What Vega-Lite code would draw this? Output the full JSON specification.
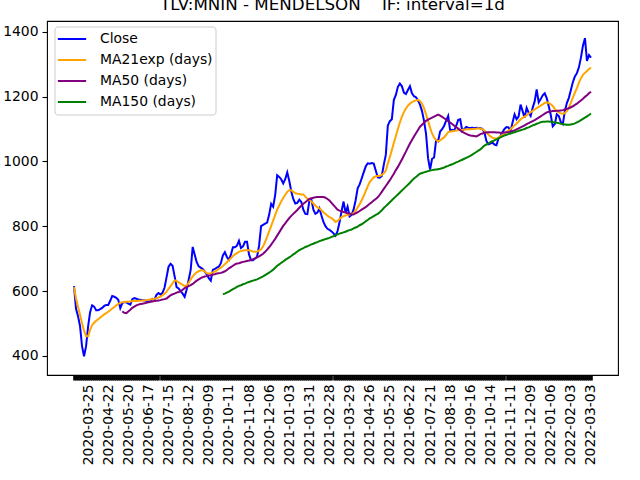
{
  "$schema": "https://vega.github.io/schema/vega-lite/v6.json",
  "width": 571,
  "height": 354,
  "autosize": {"type": "none"},
  "padding": {"left": 47, "top": 21, "right": 22, "bottom": 105},
  "title": {
    "text": "TLV:MNIN - MENDELSON\u00a0\u00a0\u00a0\u00a0IF: interval=1d",
    "font": "DejaVu Sans",
    "fontSize": 16.7,
    "fontWeight": "normal",
    "color": "black",
    "anchor": "middle",
    "baseline": "alphabetic",
    "offset": 5,
    "dy": 11
  },
  "data": {
    "values": [
      {"d": "2020-03-05", "c": 615, "e": 612},
      {"d": "2020-03-09", "c": 545, "e": 577},
      {"d": "2020-03-11", "c": 522, "e": 551},
      {"d": "2020-03-15", "c": 492, "e": 527},
      {"d": "2020-03-17", "c": 429, "e": 500},
      {"d": "2020-03-19", "c": 399, "e": 478},
      {"d": "2020-03-23", "c": 430, "e": 461},
      {"d": "2020-03-25", "c": 490, "e": 460},
      {"d": "2020-03-29", "c": 535, "e": 480},
      {"d": "2020-03-31", "c": 556, "e": 495},
      {"d": "2020-04-02", "c": 552, "e": 502},
      {"d": "2020-04-06", "c": 541, "e": 508},
      {"d": "2020-04-08", "c": 541, "e": 513},
      {"d": "2020-04-12", "c": 544, "e": 518},
      {"d": "2020-04-14", "c": 548, "e": 523},
      {"d": "2020-04-16", "c": 554, "e": 528},
      {"d": "2020-04-20", "c": 557, "e": 532},
      {"d": "2020-04-22", "c": 557, "e": 536},
      {"d": "2020-04-26", "c": 570, "e": 541},
      {"d": "2020-04-28", "c": 585, "e": 546},
      {"d": "2020-04-30", "c": 583, "e": 551},
      {"d": "2020-05-04", "c": 579, "e": 556},
      {"d": "2020-05-06", "c": 573, "e": 560},
      {"d": "2020-05-10", "c": 547, "e": 564},
      {"d": "2020-05-12", "c": 563, "e": 565, "m": 537},
      {"d": "2020-05-14", "c": 566, "e": 566, "m": 533},
      {"d": "2020-05-18", "c": 565, "e": 567, "m": 532},
      {"d": "2020-05-20", "c": 561, "e": 567, "m": 537},
      {"d": "2020-05-24", "c": 558, "e": 568, "m": 542},
      {"d": "2020-05-26", "c": 575, "e": 569, "m": 548},
      {"d": "2020-05-28", "c": 578, "e": 569, "m": 552},
      {"d": "2020-06-01", "c": 576, "e": 569, "m": 556},
      {"d": "2020-06-03", "c": 574, "e": 570, "m": 558},
      {"d": "2020-06-07", "c": 573, "e": 570, "m": 560},
      {"d": "2020-06-09", "c": 572, "e": 571, "m": 561},
      {"d": "2020-06-11", "c": 571, "e": 571, "m": 562},
      {"d": "2020-06-15", "c": 570, "e": 572, "m": 564},
      {"d": "2020-06-17", "c": 568, "e": 573, "m": 565},
      {"d": "2020-06-21", "c": 568, "e": 574, "m": 567},
      {"d": "2020-06-23", "c": 576, "e": 575, "m": 568},
      {"d": "2020-06-25", "c": 574, "e": 576, "m": 569},
      {"d": "2020-06-29", "c": 588, "e": 578, "m": 570},
      {"d": "2020-07-01", "c": 594, "e": 580, "m": 571},
      {"d": "2020-07-05", "c": 589, "e": 583, "m": 572},
      {"d": "2020-07-07", "c": 595, "e": 587, "m": 574},
      {"d": "2020-07-09", "c": 610, "e": 592, "m": 575},
      {"d": "2020-07-13", "c": 642, "e": 598, "m": 577},
      {"d": "2020-07-15", "c": 675, "e": 607, "m": 582},
      {"d": "2020-07-19", "c": 684, "e": 615, "m": 587},
      {"d": "2020-07-21", "c": 678, "e": 624, "m": 590},
      {"d": "2020-07-23", "c": 646, "e": 633, "m": 592},
      {"d": "2020-07-27", "c": 612, "e": 631, "m": 595},
      {"d": "2020-07-29", "c": 608, "e": 627, "m": 597},
      {"d": "2020-08-02", "c": 600, "e": 623, "m": 600},
      {"d": "2020-08-04", "c": 592, "e": 619, "m": 604},
      {"d": "2020-08-06", "c": 582, "e": 615, "m": 609},
      {"d": "2020-08-10", "c": 605, "e": 617, "m": 612},
      {"d": "2020-08-12", "c": 635, "e": 625, "m": 615},
      {"d": "2020-08-16", "c": 665, "e": 636, "m": 618},
      {"d": "2020-08-18", "c": 736, "e": 645, "m": 622},
      {"d": "2020-08-20", "c": 712, "e": 652, "m": 627},
      {"d": "2020-08-24", "c": 689, "e": 658, "m": 632},
      {"d": "2020-08-26", "c": 676, "e": 661, "m": 636},
      {"d": "2020-08-30", "c": 672, "e": 664, "m": 640},
      {"d": "2020-09-01", "c": 668, "e": 664, "m": 643},
      {"d": "2020-09-03", "c": 660, "e": 660, "m": 645},
      {"d": "2020-09-07", "c": 651, "e": 655, "m": 646},
      {"d": "2020-09-09", "c": 640, "e": 654, "m": 648},
      {"d": "2020-09-13", "c": 632, "e": 655, "m": 649},
      {"d": "2020-09-15", "c": 665, "e": 657, "m": 651},
      {"d": "2020-09-17", "c": 668, "e": 660, "m": 652},
      {"d": "2020-09-21", "c": 672, "e": 664, "m": 654},
      {"d": "2020-09-23", "c": 675, "e": 668, "m": 655},
      {"d": "2020-09-27", "c": 686, "e": 672, "m": 656},
      {"d": "2020-09-29", "c": 710, "e": 677, "m": 658, "l": 591},
      {"d": "2020-10-01", "c": 720, "e": 683, "m": 661, "l": 592},
      {"d": "2020-10-05", "c": 705, "e": 689, "m": 665, "l": 595},
      {"d": "2020-10-11", "c": 696, "e": 695, "m": 670, "l": 598},
      {"d": "2020-10-13", "c": 712, "e": 701, "m": 674, "l": 602},
      {"d": "2020-10-15", "c": 735, "e": 708, "m": 678, "l": 606},
      {"d": "2020-10-19", "c": 735, "e": 713, "m": 682, "l": 609},
      {"d": "2020-10-21", "c": 740, "e": 717, "m": 685, "l": 613},
      {"d": "2020-10-25", "c": 755, "e": 721, "m": 686, "l": 616},
      {"d": "2020-10-27", "c": 733, "e": 723, "m": 688, "l": 618},
      {"d": "2020-10-29", "c": 738, "e": 725, "m": 690, "l": 621},
      {"d": "2020-11-02", "c": 752, "e": 726, "m": 691, "l": 623},
      {"d": "2020-11-04", "c": 752, "e": 726, "m": 693, "l": 626},
      {"d": "2020-11-08", "c": 713, "e": 726, "m": 694, "l": 628},
      {"d": "2020-11-10", "c": 695, "e": 724, "m": 696, "l": 630},
      {"d": "2020-11-12", "c": 695, "e": 722, "m": 698, "l": 632},
      {"d": "2020-11-16", "c": 700, "e": 721, "m": 701, "l": 634},
      {"d": "2020-11-18", "c": 706, "e": 722, "m": 704, "l": 636},
      {"d": "2020-11-22", "c": 740, "e": 725, "m": 707, "l": 639},
      {"d": "2020-11-24", "c": 800, "e": 729, "m": 711, "l": 642},
      {"d": "2020-11-26", "c": 804, "e": 738, "m": 715, "l": 645},
      {"d": "2020-11-30", "c": 808, "e": 752, "m": 721, "l": 649},
      {"d": "2020-12-02", "c": 811, "e": 767, "m": 728, "l": 653},
      {"d": "2020-12-06", "c": 835, "e": 784, "m": 735, "l": 657},
      {"d": "2020-12-08", "c": 869, "e": 800, "m": 743, "l": 661},
      {"d": "2020-12-10", "c": 860, "e": 817, "m": 752, "l": 666},
      {"d": "2020-12-14", "c": 896, "e": 834, "m": 761, "l": 672},
      {"d": "2020-12-16", "c": 957, "e": 851, "m": 771, "l": 678},
      {"d": "2020-12-20", "c": 952, "e": 864, "m": 781, "l": 682},
      {"d": "2020-12-22", "c": 945, "e": 876, "m": 791, "l": 687},
      {"d": "2020-12-24", "c": 932, "e": 887, "m": 801, "l": 691},
      {"d": "2020-12-28", "c": 945, "e": 897, "m": 809, "l": 696},
      {"d": "2020-12-30", "c": 966, "e": 906, "m": 817, "l": 700},
      {"d": "2021-01-03", "c": 940, "e": 911, "m": 825, "l": 704},
      {"d": "2021-01-05", "c": 908, "e": 911, "m": 832, "l": 708},
      {"d": "2021-01-07", "c": 884, "e": 906, "m": 838, "l": 713},
      {"d": "2021-01-11", "c": 870, "e": 902, "m": 844, "l": 717},
      {"d": "2021-01-13", "c": 872, "e": 900, "m": 850, "l": 722},
      {"d": "2021-01-17", "c": 882, "e": 899, "m": 857, "l": 726},
      {"d": "2021-01-19", "c": 875, "e": 898, "m": 863, "l": 729},
      {"d": "2021-01-21", "c": 851, "e": 898, "m": 869, "l": 732},
      {"d": "2021-01-25", "c": 838, "e": 891, "m": 874, "l": 736},
      {"d": "2021-01-27", "c": 837, "e": 884, "m": 879, "l": 738},
      {"d": "2021-01-31", "c": 878, "e": 881, "m": 884, "l": 741},
      {"d": "2021-02-02", "c": 882, "e": 876, "m": 886, "l": 744},
      {"d": "2021-02-04", "c": 851, "e": 870, "m": 888, "l": 746},
      {"d": "2021-02-08", "c": 838, "e": 863, "m": 889, "l": 749},
      {"d": "2021-02-10", "c": 842, "e": 858, "m": 890, "l": 751},
      {"d": "2021-02-14", "c": 855, "e": 855, "m": 890, "l": 754},
      {"d": "2021-02-16", "c": 833, "e": 849, "m": 890, "l": 756},
      {"d": "2021-02-18", "c": 813, "e": 843, "m": 890, "l": 758},
      {"d": "2021-02-22", "c": 800, "e": 838, "m": 888, "l": 760},
      {"d": "2021-02-24", "c": 792, "e": 832, "m": 884, "l": 762},
      {"d": "2021-02-28", "c": 789, "e": 828, "m": 879, "l": 764},
      {"d": "2021-03-02", "c": 784, "e": 825, "m": 872, "l": 767},
      {"d": "2021-03-04", "c": 778, "e": 820, "m": 865, "l": 769},
      {"d": "2021-03-08", "c": 771, "e": 813, "m": 858, "l": 772},
      {"d": "2021-03-10", "c": 785, "e": 816, "m": 851, "l": 775},
      {"d": "2021-03-14", "c": 812, "e": 822, "m": 848, "l": 777},
      {"d": "2021-03-16", "c": 846, "e": 828, "m": 846, "l": 779},
      {"d": "2021-03-18", "c": 876, "e": 831, "m": 844, "l": 781},
      {"d": "2021-03-22", "c": 841, "e": 833, "m": 842, "l": 783},
      {"d": "2021-03-24", "c": 860, "e": 835, "m": 840, "l": 786},
      {"d": "2021-03-29", "c": 830, "e": 836, "m": 839, "l": 788},
      {"d": "2021-03-31", "c": 835, "e": 838, "m": 837, "l": 790},
      {"d": "2021-04-04", "c": 852, "e": 840, "m": 836, "l": 793},
      {"d": "2021-04-06", "c": 880, "e": 849, "m": 840, "l": 796},
      {"d": "2021-04-08", "c": 917, "e": 858, "m": 843, "l": 799},
      {"d": "2021-04-12", "c": 929, "e": 868, "m": 847, "l": 803},
      {"d": "2021-04-14", "c": 947, "e": 880, "m": 851, "l": 806},
      {"d": "2021-04-18", "c": 966, "e": 893, "m": 855, "l": 810},
      {"d": "2021-04-20", "c": 984, "e": 908, "m": 859, "l": 815},
      {"d": "2021-04-22", "c": 994, "e": 923, "m": 864, "l": 819},
      {"d": "2021-04-26", "c": 993, "e": 936, "m": 869, "l": 824},
      {"d": "2021-04-28", "c": 995, "e": 944, "m": 874, "l": 827},
      {"d": "2021-05-02", "c": 993, "e": 951, "m": 879, "l": 831},
      {"d": "2021-05-04", "c": 972, "e": 954, "m": 884, "l": 835},
      {"d": "2021-05-06", "c": 951, "e": 955, "m": 889, "l": 838},
      {"d": "2021-05-10", "c": 950, "e": 955, "m": 897, "l": 843},
      {"d": "2021-05-12", "c": 955, "e": 958, "m": 906, "l": 849},
      {"d": "2021-05-16", "c": 990, "e": 963, "m": 915, "l": 856},
      {"d": "2021-05-18", "c": 1020, "e": 972, "m": 924, "l": 862},
      {"d": "2021-05-20", "c": 1110, "e": 993, "m": 933, "l": 868},
      {"d": "2021-05-25", "c": 1124, "e": 1013, "m": 942, "l": 874},
      {"d": "2021-05-27", "c": 1130, "e": 1035, "m": 952, "l": 880},
      {"d": "2021-05-31", "c": 1190, "e": 1057, "m": 962, "l": 886},
      {"d": "2021-06-02", "c": 1205, "e": 1078, "m": 973, "l": 892},
      {"d": "2021-06-06", "c": 1230, "e": 1100, "m": 983, "l": 898},
      {"d": "2021-06-08", "c": 1240, "e": 1120, "m": 994, "l": 904},
      {"d": "2021-06-10", "c": 1232, "e": 1138, "m": 1006, "l": 910},
      {"d": "2021-06-14", "c": 1212, "e": 1152, "m": 1018, "l": 916},
      {"d": "2021-06-16", "c": 1208, "e": 1163, "m": 1030, "l": 922},
      {"d": "2021-06-20", "c": 1220, "e": 1172, "m": 1043, "l": 928},
      {"d": "2021-06-22", "c": 1232, "e": 1178, "m": 1055, "l": 934},
      {"d": "2021-06-24", "c": 1210, "e": 1183, "m": 1066, "l": 941},
      {"d": "2021-06-28", "c": 1201, "e": 1186, "m": 1077, "l": 947},
      {"d": "2021-06-30", "c": 1198, "e": 1188, "m": 1087, "l": 952},
      {"d": "2021-07-04", "c": 1188, "e": 1190, "m": 1097, "l": 957},
      {"d": "2021-07-06", "c": 1175, "e": 1186, "m": 1107, "l": 962},
      {"d": "2021-07-08", "c": 1155, "e": 1178, "m": 1113, "l": 964},
      {"d": "2021-07-12", "c": 1125, "e": 1164, "m": 1119, "l": 966},
      {"d": "2021-07-14", "c": 1085, "e": 1145, "m": 1125, "l": 968},
      {"d": "2021-07-18", "c": 1010, "e": 1125, "m": 1129, "l": 970},
      {"d": "2021-07-21", "c": 975, "e": 1104, "m": 1132, "l": 972},
      {"d": "2021-07-25", "c": 1008, "e": 1086, "m": 1135, "l": 973},
      {"d": "2021-07-27", "c": 1012, "e": 1073, "m": 1138, "l": 974},
      {"d": "2021-07-29", "c": 1065, "e": 1066, "m": 1141, "l": 975},
      {"d": "2021-08-02", "c": 1062, "e": 1062, "m": 1144, "l": 976},
      {"d": "2021-08-04", "c": 1092, "e": 1065, "m": 1141, "l": 977},
      {"d": "2021-08-08", "c": 1099, "e": 1070, "m": 1137, "l": 979},
      {"d": "2021-08-10", "c": 1110, "e": 1074, "m": 1133, "l": 981},
      {"d": "2021-08-12", "c": 1126, "e": 1082, "m": 1129, "l": 984},
      {"d": "2021-08-16", "c": 1140, "e": 1090, "m": 1124, "l": 986},
      {"d": "2021-08-18", "c": 1095, "e": 1092, "m": 1120, "l": 989},
      {"d": "2021-08-22", "c": 1097, "e": 1093, "m": 1115, "l": 991},
      {"d": "2021-08-24", "c": 1095, "e": 1094, "m": 1110, "l": 994},
      {"d": "2021-08-26", "c": 1110, "e": 1095, "m": 1106, "l": 997},
      {"d": "2021-08-30", "c": 1128, "e": 1096, "m": 1101, "l": 999},
      {"d": "2021-09-01", "c": 1130, "e": 1097, "m": 1096, "l": 1002},
      {"d": "2021-09-05", "c": 1094, "e": 1097, "m": 1091, "l": 1005},
      {"d": "2021-09-07", "c": 1100, "e": 1098, "m": 1088, "l": 1008},
      {"d": "2021-09-09", "c": 1106, "e": 1098, "m": 1085, "l": 1011},
      {"d": "2021-09-13", "c": 1104, "e": 1099, "m": 1082, "l": 1014},
      {"d": "2021-09-16", "c": 1103, "e": 1099, "m": 1080, "l": 1017},
      {"d": "2021-09-20", "c": 1104, "e": 1100, "m": 1079, "l": 1021},
      {"d": "2021-09-22", "c": 1102, "e": 1100, "m": 1078, "l": 1025},
      {"d": "2021-09-26", "c": 1104, "e": 1101, "m": 1077, "l": 1029},
      {"d": "2021-09-28", "c": 1103, "e": 1102, "m": 1080, "l": 1033},
      {"d": "2021-09-30", "c": 1102, "e": 1101, "m": 1084, "l": 1037},
      {"d": "2021-10-04", "c": 1100, "e": 1099, "m": 1086, "l": 1043},
      {"d": "2021-10-06", "c": 1090, "e": 1095, "m": 1088, "l": 1049},
      {"d": "2021-10-10", "c": 1063, "e": 1090, "m": 1089, "l": 1052},
      {"d": "2021-10-12", "c": 1053, "e": 1083, "m": 1090, "l": 1055},
      {"d": "2021-10-14", "c": 1055, "e": 1077, "m": 1090, "l": 1059},
      {"d": "2021-10-18", "c": 1058, "e": 1073, "m": 1090, "l": 1062},
      {"d": "2021-10-20", "c": 1052, "e": 1071, "m": 1090, "l": 1065},
      {"d": "2021-10-24", "c": 1050, "e": 1070, "m": 1089, "l": 1068},
      {"d": "2021-10-26", "c": 1070, "e": 1073, "m": 1089, "l": 1071},
      {"d": "2021-10-28", "c": 1078, "e": 1077, "m": 1088, "l": 1074},
      {"d": "2021-11-01", "c": 1090, "e": 1082, "m": 1088, "l": 1077},
      {"d": "2021-11-03", "c": 1100, "e": 1087, "m": 1089, "l": 1080},
      {"d": "2021-11-07", "c": 1106, "e": 1091, "m": 1090, "l": 1082},
      {"d": "2021-11-09", "c": 1105, "e": 1095, "m": 1090, "l": 1084},
      {"d": "2021-11-11", "c": 1092, "e": 1099, "m": 1092, "l": 1086},
      {"d": "2021-11-15", "c": 1120, "e": 1105, "m": 1094, "l": 1088},
      {"d": "2021-11-17", "c": 1145, "e": 1111, "m": 1095, "l": 1090},
      {"d": "2021-11-21", "c": 1130, "e": 1117, "m": 1099, "l": 1092},
      {"d": "2021-11-23", "c": 1138, "e": 1123, "m": 1102, "l": 1094},
      {"d": "2021-11-25", "c": 1175, "e": 1130, "m": 1105, "l": 1096},
      {"d": "2021-11-29", "c": 1155, "e": 1134, "m": 1108, "l": 1098},
      {"d": "2021-12-01", "c": 1135, "e": 1138, "m": 1111, "l": 1100},
      {"d": "2021-12-05", "c": 1165, "e": 1142, "m": 1115, "l": 1103},
      {"d": "2021-12-07", "c": 1150, "e": 1147, "m": 1118, "l": 1105},
      {"d": "2021-12-09", "c": 1140, "e": 1152, "m": 1121, "l": 1108},
      {"d": "2021-12-13", "c": 1165, "e": 1156, "m": 1124, "l": 1111},
      {"d": "2021-12-15", "c": 1185, "e": 1160, "m": 1127, "l": 1113},
      {"d": "2021-12-19", "c": 1222, "e": 1164, "m": 1131, "l": 1116},
      {"d": "2021-12-21", "c": 1182, "e": 1168, "m": 1135, "l": 1118},
      {"d": "2021-12-23", "c": 1192, "e": 1172, "m": 1139, "l": 1121},
      {"d": "2021-12-27", "c": 1204, "e": 1176, "m": 1143, "l": 1122},
      {"d": "2021-12-29", "c": 1210, "e": 1180, "m": 1147, "l": 1122},
      {"d": "2022-01-02", "c": 1195, "e": 1182, "m": 1151, "l": 1123},
      {"d": "2022-01-04", "c": 1170, "e": 1180, "m": 1153, "l": 1123},
      {"d": "2022-01-06", "c": 1143, "e": 1176, "m": 1154, "l": 1122},
      {"d": "2022-01-10", "c": 1108, "e": 1171, "m": 1155, "l": 1121},
      {"d": "2022-01-12", "c": 1115, "e": 1162, "m": 1155, "l": 1120},
      {"d": "2022-01-16", "c": 1145, "e": 1155, "m": 1156, "l": 1119},
      {"d": "2022-01-18", "c": 1140, "e": 1151, "m": 1156, "l": 1118},
      {"d": "2022-01-20", "c": 1121, "e": 1148, "m": 1157, "l": 1116},
      {"d": "2022-01-24", "c": 1115, "e": 1147, "m": 1158, "l": 1115},
      {"d": "2022-01-26", "c": 1155, "e": 1149, "m": 1160, "l": 1114},
      {"d": "2022-01-30", "c": 1180, "e": 1155, "m": 1162, "l": 1113},
      {"d": "2022-02-01", "c": 1196, "e": 1166, "m": 1164, "l": 1113},
      {"d": "2022-02-03", "c": 1220, "e": 1181, "m": 1167, "l": 1114},
      {"d": "2022-02-07", "c": 1245, "e": 1197, "m": 1170, "l": 1115},
      {"d": "2022-02-09", "c": 1262, "e": 1212, "m": 1174, "l": 1117},
      {"d": "2022-02-13", "c": 1272, "e": 1226, "m": 1178, "l": 1120},
      {"d": "2022-02-15", "c": 1290, "e": 1243, "m": 1183, "l": 1123},
      {"d": "2022-02-17", "c": 1320, "e": 1256, "m": 1188, "l": 1127},
      {"d": "2022-02-21", "c": 1357, "e": 1267, "m": 1193, "l": 1131},
      {"d": "2022-02-23", "c": 1380, "e": 1273, "m": 1199, "l": 1135},
      {"d": "2022-02-27", "c": 1310, "e": 1279, "m": 1204, "l": 1139},
      {"d": "2022-03-01", "c": 1328, "e": 1285, "m": 1210, "l": 1143},
      {"d": "2022-03-03", "c": 1320, "e": 1289, "m": 1215, "l": 1147}
    ]
  },
  "transform": [{"fold": ["c", "e", "m", "l"], "as": ["series", "price"]}],
  "mark": {"type": "line", "strokeWidth": 2, "clip": true},
  "encoding": {
    "x": {
      "field": "d",
      "type": "ordinal",
      "sort": "ascending",
      "scale": {"type": "point", "range": [26, 545]},
      "axis": {
        "title": null,
        "domain": false,
        "grid": false,
        "labelAngle": 270,
        "labelFont": "DejaVu Sans",
        "labelFontSize": 13.9,
        "labelColor": "black",
        "labelPadding": 4,
        "labelOverlap": false,
        "tickColor": "black",
        "tickSize": 5,
        "tickWidth": 2.6,
        "labelExpr": "indexof(['2020-03-25','2020-04-22','2020-05-20','2020-06-17','2020-07-15','2020-08-12','2020-09-09','2020-10-11','2020-11-08','2020-12-06','2021-01-03','2021-01-31','2021-02-28','2021-03-29','2021-04-26','2021-05-25','2021-06-22','2021-07-21','2021-08-18','2021-09-16','2021-10-14','2021-11-11','2021-12-09','2022-01-06','2022-02-03','2022-03-03'], datum.value) >= 0 ? datum.label : ''"
      }
    },
    "y": {
      "field": "price",
      "type": "quantitative",
      "scale": {"domain": [341, 1433], "nice": false, "zero": false},
      "axis": {
        "title": null,
        "domain": false,
        "grid": false,
        "format": "d",
        "values": [400, 600, 800, 1000, 1200, 1400],
        "labelFont": "DejaVu Sans",
        "labelFontSize": 13.9,
        "labelColor": "black",
        "labelPadding": 4,
        "tickColor": "black",
        "tickSize": 5,
        "tickWidth": 1.1
      }
    },
    "color": {
      "field": "series",
      "type": "nominal",
      "scale": {
        "domain": ["c", "e", "m", "l"],
        "range": ["#0000ff", "#ffa500", "#800080", "#008000"]
      },
      "legend": {
        "title": null,
        "orient": "none",
        "legendX": 7.5,
        "legendY": 5.5,
        "symbolType": "stroke",
        "symbolSize": 800,
        "symbolStrokeWidth": 2,
        "clipHeight": 20.9,
        "labelFont": "DejaVu Sans",
        "labelFontSize": 13.9,
        "labelColor": "black",
        "labelOffset": 12.5,
        "rowPadding": 0,
        "padding": 2,
        "strokeColor": "#cccccc",
        "fillColor": "rgba(255,255,255,0.8)",
        "cornerRadius": 3,
        "labelExpr": "datum.label == 'c' ? 'Close' : datum.label == 'e' ? 'MA21exp (days)' : datum.label == 'm' ? 'MA50 (days)' : 'MA150 (days)'"
      }
    }
  },
  "config": {
    "view": {"stroke": "black", "strokeWidth": 1.1},
    "font": "DejaVu Sans"
  }
}
